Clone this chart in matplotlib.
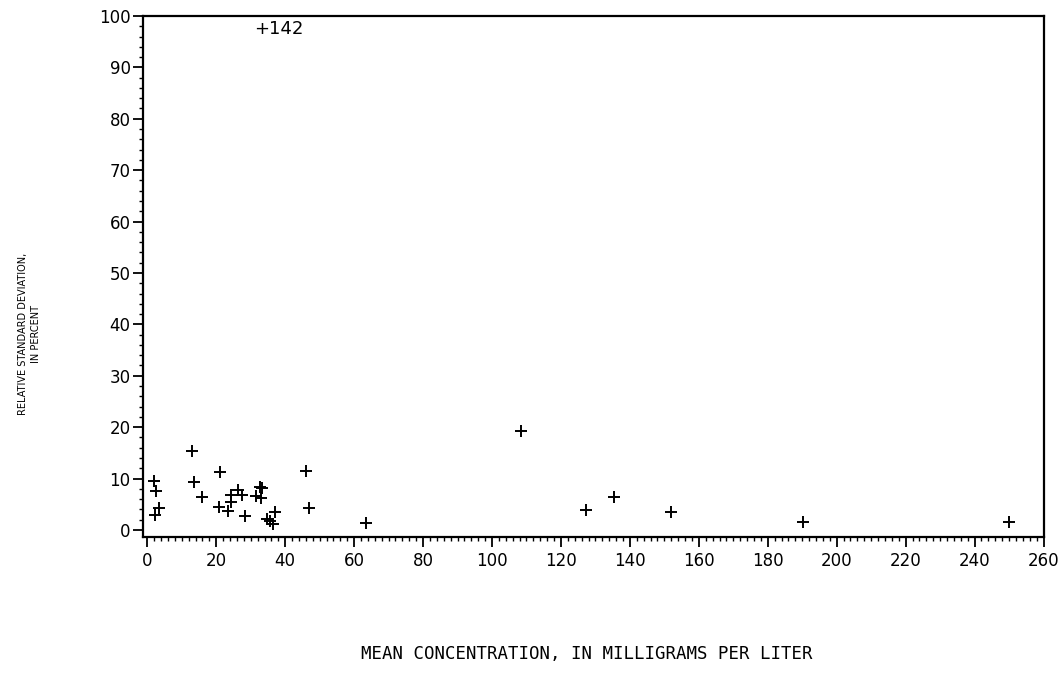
import matplotlib
matplotlib.use("Agg")
import matplotlib.pyplot as plt
from matplotlib.ticker import MultipleLocator

# mean concentration (mg/L) and relative standard deviation (%)
conc = [2.0, 2.5, 3.5, 2.2, 12.9, 13.6, 15.8, 21.1, 20.9, 23.3, 24.3, 24.3,
        26.4, 27.6, 28.2, 31.5, 32.7, 33.2, 32.9, 34.6, 35.6, 36.4, 36.9,
        46.0, 47.0, 63.4, 108.4, 127.2, 135.4, 152.0, 190.2, 250.0]
rsd = [9.5, 7.6, 4.3, 3.0, 15.3, 9.3, 6.5, 11.2, 4.4, 3.7, 5.5, 6.8,
       7.8, 6.8, 2.8, 6.6, 8.4, 8.2, 6.3, 2.1, 1.7, 1.2, 3.4,
       11.4, 4.2, 1.4, 19.2, 3.9, 6.5, 3.4, 1.6, 1.5]

# off-scale point, labelled at the top of the plot
off_x = 31.0
off_label = "+142"

fig = plt.figure(figsize=(10.64, 6.94), dpi=100)
ax = fig.add_axes([0.1344, 0.226, 0.847, 0.751])

ax.plot(conc, rsd, linestyle="none", marker="+", markersize=8,
        markeredgewidth=1.4, color="black")
ax.text(off_x, 97.5, off_label, fontsize=13, va="center", ha="left")

ax.set_xlim(-1.25, 260.2)
ax.set_ylim(-1.4, 100)
ax.xaxis.set_major_locator(MultipleLocator(20))
ax.xaxis.set_minor_locator(MultipleLocator(2))
ax.yaxis.set_major_locator(MultipleLocator(10))
ax.yaxis.set_minor_locator(MultipleLocator(2))
ax.tick_params(which="major", length=7, width=1.3, labelsize=12, direction="out")
ax.tick_params(which="minor", length=3, width=1.0, direction="out")
ax.tick_params(axis="x", pad=4)
ax.tick_params(axis="y", pad=2)
for s in ax.spines.values():
    s.set_linewidth(1.6)

fig.text(0.5515, 0.057, "MEAN CONCENTRATION, IN MILLIGRAMS PER LITER",
         ha="center", va="center", fontsize=12.5, family="DejaVu Sans Mono")
fig.text(0.028, 0.519, "RELATIVE STANDARD DEVIATION,\nIN PERCENT",
         ha="center", va="center", rotation=90, fontsize=7, linespacing=1.4)

fig.savefig("out.png", dpi=100)
